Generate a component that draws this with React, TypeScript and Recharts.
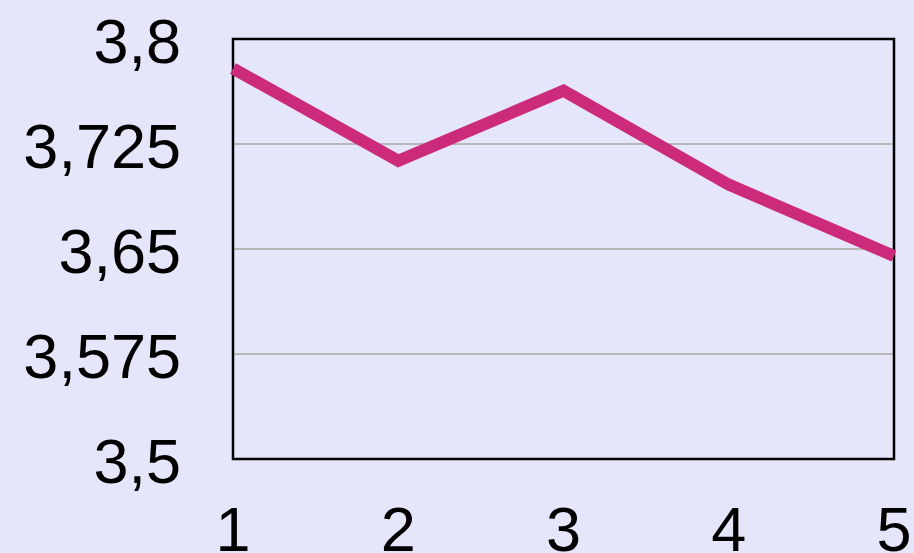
import React from 'react';
import { LineChart, Line, XAxis, YAxis, CartesianGrid, ReferenceArea } from 'recharts';

const steps = [1, 2, 3, 4, 5];
const values = [3.779, 3.713, 3.763, 3.696, 3.645];
const yTicks = [3.5, 3.575, 3.65, 3.725, 3.8];

const data = steps.map((x, i) => ({ x, value: values[i] }));

const FONT = '"Liberation Sans", Arial, Helvetica, sans-serif';

const fmt = (v: number) => String(v).replace('.', ',');

const YTick = (props: any) => {
  const { y, payload } = props;
  return (
    <text x={181} y={y + 24} textAnchor="end" fontSize={63} fontFamily={FONT} fill="#000">
      {fmt(payload.value)}
    </text>
  );
};

const XTick = (props: any) => {
  const { x, payload } = props;
  return (
    <text x={x} y={551} textAnchor="middle" fontSize={63} fontFamily={FONT} fill="#000">
      {payload.value}
    </text>
  );
};

export default function App() {
  return (
    <div style={{ position: 'fixed', left: 0, top: 0, width: 914, height: 553, background: '#E6E6FA', overflow: 'hidden' }}>
      <LineChart width={914} height={553} data={data} margin={{ top: 39, right: 20, left: 0, bottom: 0 }}>
        <CartesianGrid vertical={false} stroke="#B8B8B8" strokeWidth={2} />
        <XAxis
          type="number"
          dataKey="x"
          domain={[1, 5]}
          ticks={steps}
          height={94}
          axisLine={false}
          tickLine={false}
          tick={<XTick />}
          interval={0}
        />
        <YAxis
          domain={[3.5, 3.8]}
          ticks={yTicks}
          width={233}
          axisLine={false}
          tickLine={false}
          tick={<YTick />}
          interval={0}
        />
        <ReferenceArea x1={1} x2={5} y1={3.5} y2={3.8} fill="none" stroke="#000" strokeWidth={2.5} fillOpacity={0} />
        <Line
          type="linear"
          dataKey="value"
          stroke="#CC2A7A"
          strokeWidth={12}
          strokeLinejoin="miter"
          strokeLinecap="butt"
          dot={false}
          activeDot={false}
          isAnimationActive={false}
        />
      </LineChart>
    </div>
  );
}
